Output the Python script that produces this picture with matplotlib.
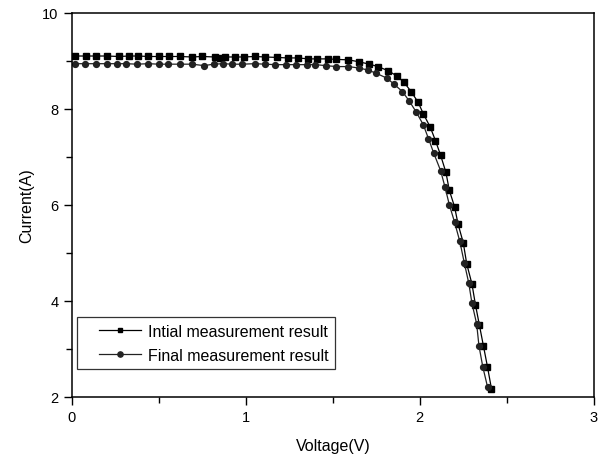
import matplotlib as mpl
mpl.use('Agg')
mpl.rcParams['font.family'] = ['Liberation Sans', 'DejaVu Sans']
import numpy as np
import matplotlib.pyplot as plt
from matplotlib.legend_handler import HandlerLine2D

#=============
# Data
#=============
# Initial measurement (squares)
v_init = [0.02, 0.08, 0.14, 0.20, 0.27, 0.33, 0.38, 0.44, 0.50, 0.56,
          0.62, 0.69, 0.75, 0.82, 0.85, 0.88, 0.94, 0.99, 1.05, 1.11,
          1.18, 1.24, 1.30, 1.36, 1.41, 1.47, 1.52, 1.59, 1.65, 1.71,
          1.76, 1.82, 1.87, 1.91, 1.95, 1.99, 2.02, 2.06, 2.09, 2.12,
          2.15, 2.17, 2.20, 2.22, 2.25, 2.27, 2.30, 2.32, 2.343, 2.366,
          2.389, 2.412]
i_init = [9.10, 9.10, 9.10, 9.10, 9.09, 9.10, 9.10, 9.09, 9.09, 9.09,
          9.09, 9.08, 9.09, 9.08, 9.06, 9.08, 9.08, 9.08, 9.09, 9.08,
          9.07, 9.06, 9.06, 9.04, 9.04, 9.04, 9.03, 9.02, 8.98, 8.93,
          8.88, 8.79, 8.68, 8.55, 8.36, 8.14, 7.90, 7.62, 7.34, 7.03,
          6.68, 6.30, 5.96, 5.60, 5.21, 4.77, 4.35, 3.92, 3.49, 3.06,
          2.63, 2.17]

# Final measurement (circles)
v_final = [0.02, 0.075, 0.14, 0.20, 0.26, 0.31, 0.375, 0.44, 0.50, 0.55,
           0.62, 0.69, 0.76, 0.815, 0.87, 0.92, 0.98, 1.05, 1.11, 1.17,
           1.23, 1.29, 1.35, 1.40, 1.46, 1.52, 1.59, 1.65, 1.70, 1.75,
           1.81, 1.85, 1.90, 1.94, 1.98, 2.02, 2.05, 2.08, 2.12, 2.145,
           2.17, 2.20, 2.23, 2.256, 2.281, 2.30, 2.327, 2.34, 2.362, 2.39]
i_final = [8.94, 8.94, 8.94, 8.94, 8.94, 8.94, 8.93, 8.94, 8.93, 8.93,
           8.93, 8.93, 8.90, 8.93, 8.94, 8.93, 8.93, 8.94, 8.93, 8.92,
           8.92, 8.92, 8.92, 8.92, 8.90, 8.88, 8.88, 8.85, 8.81, 8.74,
           8.64, 8.52, 8.36, 8.16, 7.93, 7.67, 7.38, 7.08, 6.71, 6.37,
           6.00, 5.64, 5.24, 4.79, 4.38, 3.95, 3.52, 3.07, 2.63, 2.20]

labels = ['Intial measurement result', 'Final measurement result']


#---------------------------------------------
# Legend handle with blank lead-in on the left
#---------------------------------------------
class PadHandler(HandlerLine2D):
    def get_xdata(self, legend, xdescent, ydescent, width, height, fontsize):
        lead = 0.27 * width
        xd = np.array([-xdescent + lead, -xdescent + width])
        xm = np.array([-xdescent + lead + (width - lead) / 2.0])
        return xd, xm


#=============
# Plot
#=============
fig = plt.figure(figsize=(6.04, 4.60), dpi=100)
ax = fig.add_axes([0.119, 0.135, 0.864, 0.835])

p1, = ax.plot(v_init, i_init, 'k-', marker='s', markersize=3.8,
              linewidth=0.9, label=labels[0])
p2, = ax.plot(v_final, i_final, '-', color='#222222', marker='o',
              markersize=4.2, linewidth=0.9, mfc='#222222', mec='#222222',
              label=labels[1])

ax.set_xlim(0, 3)
ax.set_ylim(2, 10)
ax.set_xticks([0, 1, 2, 3])
ax.set_xticks([0.5, 1.5, 2.5], minor=True)
ax.set_yticks([2, 4, 6, 8, 10])
ax.set_yticks([3, 5, 7, 9], minor=True)
ax.tick_params(which='both', direction='out', labelsize=10.5, width=1)
ax.tick_params(which='major', length=6)
ax.tick_params(which='minor', length=4)
for s in ax.spines.values():
    s.set_linewidth(1.1)

ax.set_xlabel('Voltage(V)', fontsize=11.5, labelpad=10)
ax.set_ylabel('Current(A)', fontsize=11.5, labelpad=6)

lg = ax.legend([p1, p2], labels, loc='lower left',
               bbox_to_anchor=(0.0, 0.058), fontsize=11.5,
               frameon=True, fancybox=False, edgecolor='black',
               handlelength=3.6, borderpad=0.4, labelspacing=0.55,
               handletextpad=0.4, borderaxespad=0.35, markerscale=0.9,
               handler_map={p1: PadHandler(), p2: PadHandler()})
lg.get_frame().set_linewidth(0.9)

fig.savefig('out.png', dpi=100)
